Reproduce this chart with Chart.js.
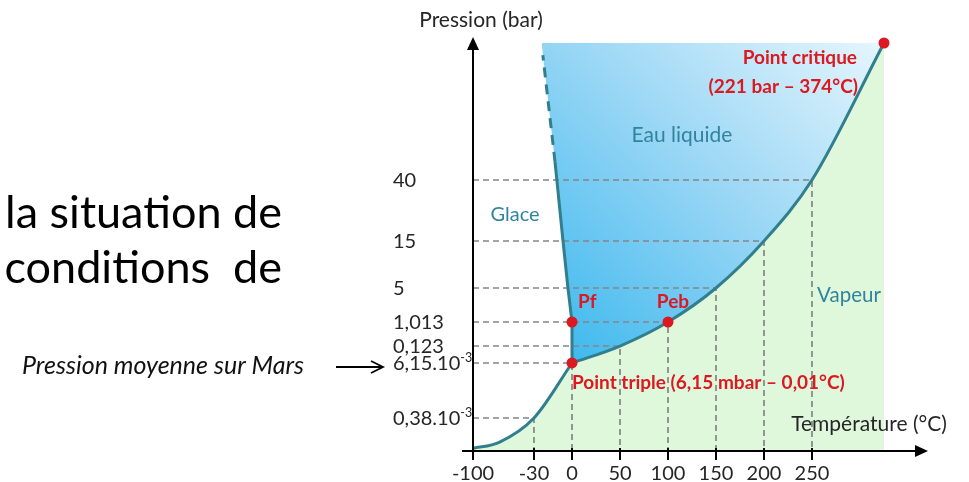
<!DOCTYPE html>
<html><head><meta charset="utf-8">
<script src="https://cdn.jsdelivr.net/npm/chart.js@4.4.0/dist/chart.umd.min.js"></script>
<style>html,body{margin:0;padding:0;background:#fff;}canvas{display:block;}</style>
</head><body>
<canvas id="c" width="969" height="482"></canvas>
<script>
// ---------- data ----------
const xTickValues = [-100, -30, 0, 50, 100, 150, 200, 250];
const xTickLabels = ['-100', '-30', '0', '50', '100', '150', '200', '250'];
const yTickValues = [0.00038, 0.00615, 0.123, 1.013, 5, 15, 40];
const yTickLabels = ['0,38.10^-3', '6,15.10^-3', '0,123', '1,013', '5', '15', '40'];

const sublimationT = [-100, -70, -30, 0.01];
const sublimationP = [0.00003, 0.0001, 0.00038, 0.00615];
const vaporisationT = [0.01, 50, 100, 150, 200, 250, 374];
const vaporisationP = [0.00615, 0.123, 1.013, 5, 15, 40, 221];
const fusionT = [0.01, 0, -3.2, -7.1, -13.4];
const fusionP = [0.00615, 1.013, 5, 15, 64];
const fusionDashT = [-13.4, -23];
const fusionDashP = [64, 205];
const liquidEdgeT = [-24, -13.4, -7.1, -3.2, 0, 0.01];
const liquidEdgeP = [221, 64, 15, 5, 1.013, 0.00615];

const guideT = [-30, 0.01, 50, 100, 150, 200, 250];
const guideP = [0.00038, 0.00615, 0.123, 1.013, 5, 15, 40];

const pointNames = ['Point triple', 'Pf', 'Peb', 'Point critique'];
const pointT = [0.01, 0, 100, 374];
const pointP = [0.00615, 1.013, 1.013, 221];

const criticalP = 221;
const axisMinT = -100, axisMaxT = 420, axisMaxP = 250;

// ---------- schematic (piecewise) scale ----------
const scaleBreaks = {
  x: { v: [-100, -30, 0, 250, 374, 420], f: [0, 0.134, 0.2176, 0.745, 0.9033, 1] },
  y: { v: [0, 0.00038, 0.00615, 0.123, 1.013, 5, 15, 40, 221, 250],
       f: [0, 0.0797, 0.2126, 0.2536, 0.3116, 0.3937, 0.5072, 0.6546, 0.9855, 1] }
};
class PiecewiseScale extends Chart.LinearScale {
  _toFrac(val) {
    const b = scaleBreaks[this.id], v = b.v, f = b.f;
    let i = 0;
    while (i < v.length - 2 && val > v[i + 1]) i++;
    return f[i] + (val - v[i]) / (v[i + 1] - v[i]) * (f[i + 1] - f[i]);
  }
  _fromFrac(fr) {
    const b = scaleBreaks[this.id], v = b.v, f = b.f;
    let i = 0;
    while (i < f.length - 2 && fr > f[i + 1]) i++;
    return v[i] + (fr - f[i]) / (f[i + 1] - f[i]) * (v[i + 1] - v[i]);
  }
  getPixelForValue(value) { return this.getPixelForDecimal(this._toFrac(value)); }
  getValueForPixel(pixel) { return this._fromFrac(this.getDecimalForPixel(pixel)); }
}
PiecewiseScale.id = 'piecewise';
PiecewiseScale.defaults = Chart.LinearScale.defaults;
Chart.register(PiecewiseScale);

const pts = (T, P) => T.map((t, i) => ({ x: t, y: P[i] }));

// ---------- colours ----------
const TEAL = '#317f8e', TEXT_TEAL = '#31849b', RED = '#dc1820', GREY = '#858585', GREEN = '#dff8dc', INK = '#262626';

function blueGradient(c) {
  const chart = c.chart;
  if (!chart.chartArea) return '#7fd0f4';
  const xs = chart.scales.x, ys = chart.scales.y;
  const g = chart.ctx.createLinearGradient(
    xs.getPixelForValue(pointT[0]), ys.getPixelForValue(pointP[0]),
    xs.getPixelForValue(pointT[3]), ys.getPixelForValue(pointP[3]));
  g.addColorStop(0, '#3fb9ee');
  g.addColorStop(0.5, '#98d6f5');
  g.addColorStop(1, '#e6f6fd');
  return g;
}

const datasets = [];
// red points
datasets.push({ data: pts(pointT, pointP), showLine: false, pointRadius: 5.5, pointBackgroundColor: RED, pointBorderWidth: 0 });
// curves
datasets.push({ data: pts(vaporisationT, vaporisationP), borderColor: TEAL, borderWidth: 3, cubicInterpolationMode: 'monotone', pointRadius: 0, fill: false });
datasets.push({ data: pts(sublimationT, sublimationP), borderColor: TEAL, borderWidth: 3, cubicInterpolationMode: 'monotone', pointRadius: 0, fill: false });
datasets.push({ data: pts(fusionT, fusionP), borderColor: TEAL, borderWidth: 3, tension: 0, pointRadius: 0, fill: false });
datasets.push({ data: pts(fusionDashT, fusionDashP), borderColor: TEAL, borderWidth: 3, borderDash: [10, 7], tension: 0, pointRadius: 0, fill: false });
// dashed guide lines
guideT.forEach((t, i) => {
  datasets.push({ data: [{ x: axisMinT, y: guideP[i] }, { x: t, y: guideP[i] }, { x: t, y: 0 }],
    borderColor: GREY, borderWidth: 1.7, borderDash: [6, 4], tension: 0, pointRadius: 0, fill: false });
});
// blue (liquid) fills
datasets.push({ data: pts(liquidEdgeT, liquidEdgeP), borderWidth: 0, tension: 0, pointRadius: 0, fill: { value: criticalP }, backgroundColor: blueGradient });
datasets.push({ data: pts(vaporisationT, vaporisationP), borderWidth: 0, cubicInterpolationMode: 'monotone', pointRadius: 0, fill: { value: criticalP }, backgroundColor: blueGradient });
// green (vapour) fills
datasets.push({ data: pts(sublimationT, sublimationP), borderWidth: 0, cubicInterpolationMode: 'monotone', pointRadius: 0, fill: { value: 0 }, backgroundColor: GREEN });
datasets.push({ data: pts(vaporisationT, vaporisationP), borderWidth: 0, cubicInterpolationMode: 'monotone', pointRadius: 0, fill: { value: 0 }, backgroundColor: GREEN });

// ---------- overlay: axes, ticks and texts ----------
function txt(ctx, s, x, y, font, color, align, base) {
  ctx.font = font; ctx.fillStyle = color; ctx.textAlign = align || 'left'; ctx.textBaseline = base || 'middle';
  ctx.fillText(s, x, y);
}
const overlay = {
  id: 'overlay',
  afterDraw(chart) {
    const ctx = chart.ctx, xs = chart.scales.x, ys = chart.scales.y, ca = chart.chartArea;
    const x0 = xs.getPixelForValue(axisMinT), y0 = ys.getPixelForValue(0);
    ctx.save();
    // axes
    ctx.strokeStyle = '#000'; ctx.fillStyle = '#000'; ctx.lineWidth = 2;
    ctx.beginPath(); ctx.moveTo(x0, y0 + 9); ctx.lineTo(x0, ca.top + 10); ctx.stroke();
    ctx.beginPath(); ctx.moveTo(x0 - 11, y0); ctx.lineTo(ca.right - 10, y0); ctx.stroke();
    ctx.beginPath(); ctx.moveTo(x0, ca.top); ctx.lineTo(x0 - 6, ca.top + 13); ctx.lineTo(x0 + 6, ca.top + 13); ctx.closePath(); ctx.fill();
    ctx.beginPath(); ctx.moveTo(ca.right, y0); ctx.lineTo(ca.right - 13, y0 - 6); ctx.lineTo(ca.right - 13, y0 + 6); ctx.closePath(); ctx.fill();
    // x ticks
    xTickValues.forEach((v, i) => {
      const px = xs.getPixelForValue(v);
      ctx.beginPath(); ctx.moveTo(px, y0 - 3); ctx.lineTo(px, y0 + 9); ctx.stroke();
      txt(ctx, xTickLabels[i], px, y0 + 23, '20px Lato', INK, 'center');
    });
    // y tick labels
    yTickValues.forEach((v, i) => {
      const py = ys.getPixelForValue(v);
      const parts = yTickLabels[i].split('^');
      txt(ctx, parts[0], 393, py + 1, '20px Lato', INK, 'left');
      if (parts[1]) {
        ctx.font = '20px Lato';
        const w = ctx.measureText(parts[0]).width;
        txt(ctx, parts[1], 393 + w, py - 5, '12.5px Lato', INK, 'left');
      }
    });
    // axis titles
    txt(ctx, 'Pression (bar)', x0 + 8, 20, '21px Lato', INK, 'center');
    txt(ctx, 'Température (°C)', 869, 424, '21px Lato', INK, 'center');
    // region labels
    txt(ctx, 'Eau liquide', 682, 135, '21px Lato', TEXT_TEAL, 'center');
    txt(ctx, 'Glace', 515, 215, '20px Lato', TEXT_TEAL, 'center');
    txt(ctx, 'Vapeur', 849, 295, '20.5px Lato', TEXT_TEAL, 'center');
    // point labels
    const P = pointT.map((t, i) => ({ x: xs.getPixelForValue(t), y: ys.getPixelForValue(pointP[i]) }));
    const B = 'bold 19px Lato';
    txt(ctx, 'Point triple (6,15 mbar – 0,01°C)', P[0].x, P[0].y + 20, B, RED, 'left');
    txt(ctx, 'Pf', P[1].x + 6, P[1].y - 20, B, RED, 'left');
    txt(ctx, 'Peb', P[2].x + 5, P[2].y - 20, B, RED, 'center');
    txt(ctx, 'Point critique', P[3].x - 27, P[3].y + 15, B, RED, 'right');
    txt(ctx, '(221 bar – 374°C)', P[3].x - 26, P[3].y + 44, B, RED, 'right');
    // Mars annotation
    txt(ctx, 'Pression moyenne sur Mars', 22, 366, 'italic 25px Lato', '#111', 'left');
    const ay = ys.getPixelForValue(0.00615) + 4;
    ctx.lineWidth = 1.8;
    ctx.beginPath(); ctx.moveTo(336, ay); ctx.lineTo(383, ay); ctx.stroke();
    ctx.beginPath(); ctx.moveTo(371, ay - 6); ctx.lineTo(383, ay); ctx.lineTo(371, ay + 6); ctx.stroke();
    // cropped slide text
    txt(ctx, 'la situation de', 282, 228, '45px Lato', '#000', 'right', 'alphabetic');
    txt(ctx, 'conditions  de', 282, 283, '45px Lato', '#000', 'right', 'alphabetic');
    ctx.restore();
  }
};

new Chart(document.getElementById('c'), {
  type: 'line',
  data: { datasets },
  options: {
    responsive: false,
    animation: false,
    events: [],
    layout: { padding: { left: 473, right: 41, top: 37, bottom: 31 } },
    plugins: { legend: { display: false }, tooltip: { enabled: false } },
    scales: {
      x: { type: 'piecewise', display: false, min: axisMinT, max: axisMaxT,
           afterBuildTicks: s => { s.ticks = xTickValues.map(v => ({ value: v })); } },
      y: { type: 'piecewise', display: false, min: 0, max: axisMaxP,
           afterBuildTicks: s => { s.ticks = yTickValues.map(v => ({ value: v })); } }
    }
  },
  plugins: [overlay]
});
</script>
</body></html>
